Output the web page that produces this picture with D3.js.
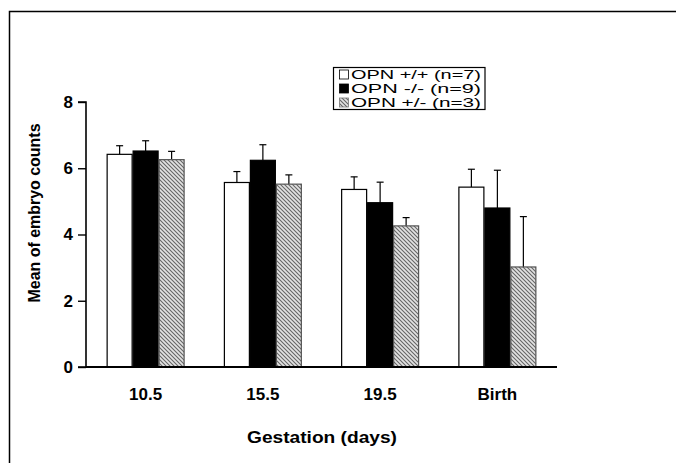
<!DOCTYPE html>
<html><head><meta charset="utf-8">
<script src="https://cdn.jsdelivr.net/npm/d3@7"></script>
<style>body{margin:0;background:#fff}svg{display:block}text{font-family:"Liberation Sans",Arial,sans-serif}</style>
</head><body><svg id="c" width="676" height="463"></svg>
<script>
const categories = ["10.5", "15.5", "19.5", "Birth"];
const seriesNames = ["OPN +/+ (n=7)", "OPN -/- (n=9)", "OPN +/- (n=3)"];
const wildType = [6.42, 5.57, 5.36, 5.43];
const wildTypeErr = [0.26, 0.33, 0.38, 0.54];
const knockout = [6.52, 6.24, 4.96, 4.80];
const knockoutErr = [0.31, 0.47, 0.62, 1.14];
const hetero = [6.26, 5.52, 4.26, 3.02];
const heteroErr = [0.25, 0.28, 0.25, 1.52];
const yTicks = [0, 2, 4, 6, 8];

const series = [
  {name: seriesNames[0], values: wildType, err: wildTypeErr, fill: "#fff", stroke: "#000"},
  {name: seriesNames[1], values: knockout, err: knockoutErr, fill: "#000", stroke: "#000"},
  {name: seriesNames[2], values: hetero, err: heteroErr, fill: "url(#hatch)", stroke: "#555"}
];

const svg = d3.select("#c");
const defs = svg.append("defs");
const pat = defs.append("pattern").attr("id", "hatch").attr("patternUnits", "userSpaceOnUse")
  .attr("width", 4).attr("height", 4);
pat.append("rect").attr("width", 4).attr("height", 4).attr("fill", "#e2e2e2");
pat.append("path").attr("d", "M-1,-1 L5,5 M-1,3 L1,5 M3,-1 L5,1").attr("stroke", "#666").attr("stroke-width", 1.1);

// outer frame
svg.append("path").attr("d", "M9.5,470 L9.5,11.5 L680,11.5").attr("fill", "none").attr("stroke", "#000").attr("stroke-width", 1.5);

const x0 = d3.scaleBand().domain(categories).range([86, 557]).paddingInner(0.335).paddingOuter(0.176);
const x1 = d3.scaleBand().domain(d3.range(series.length)).range([0, x0.bandwidth()]);
const y = d3.scaleLinear().domain([0, 8]).range([367, 102]);

// bars
series.forEach((s, si) => {
  const g = svg.append("g");
  g.selectAll("line.err").data(categories).join("line")
    .attr("x1", (c) => x0(c) + x1(si) + x1.bandwidth() / 2)
    .attr("x2", (c) => x0(c) + x1(si) + x1.bandwidth() / 2)
    .attr("y1", (c, i) => y(s.values[i]))
    .attr("y2", (c, i) => y(s.values[i] + s.err[i]))
    .attr("stroke", "#000").attr("stroke-width", 1.2);
  g.selectAll("line.cap").data(categories).join("line")
    .attr("x1", (c) => x0(c) + x1(si) + x1.bandwidth() / 2 - 3.5)
    .attr("x2", (c) => x0(c) + x1(si) + x1.bandwidth() / 2 + 3.5)
    .attr("y1", (c, i) => y(s.values[i] + s.err[i]))
    .attr("y2", (c, i) => y(s.values[i] + s.err[i]))
    .attr("stroke", "#000").attr("stroke-width", 1.2);
  g.selectAll("rect").data(categories).join("rect")
    .attr("x", (c) => x0(c) + x1(si) + 0.5)
    .attr("y", (c, i) => y(s.values[i]))
    .attr("width", x1.bandwidth() - 1)
    .attr("height", (c, i) => y(0) - y(s.values[i]))
    .attr("fill", s.fill).attr("stroke", s.stroke).attr("stroke-width", 1.2);
});

// axes
const yAxis = d3.axisLeft(y).tickValues(yTicks).tickSize(8).tickPadding(5).tickFormat(d3.format("d"));
const ya = svg.append("g").attr("transform", "translate(86,0)").call(yAxis);
ya.select(".domain").attr("stroke-width", 1.6).attr("d", "M-8,102H0V367H-8");
ya.selectAll(".tick line").attr("stroke-width", 1.4);
ya.selectAll("text").attr("font-size", 17).attr("font-weight", "bold").attr("fill", "#000").attr("font-family", "Liberation Sans, Arial, sans-serif");

const xAxis = d3.axisBottom(x0).tickSize(0).tickPadding(21);
const xa = svg.append("g").attr("transform", "translate(0,367)").call(xAxis);
xa.select(".domain").attr("stroke-width", 1.8).attr("d", "M86,0H557");
xa.selectAll("text").attr("font-size", 17).attr("font-weight", "bold").attr("fill", "#000").attr("font-family", "Liberation Sans, Arial, sans-serif");

svg.append("text").attr("x", 322).attr("y", 443).attr("text-anchor", "middle")
  .attr("font-size", 17).attr("font-weight", "bold")
  .attr("textLength", 150).attr("lengthAdjust", "spacingAndGlyphs").text("Gestation (days)");
svg.append("text").attr("transform", "translate(40,213) rotate(-90)").attr("text-anchor", "middle")
  .attr("font-size", 16).attr("font-weight", "bold")
  .attr("textLength", 179).attr("lengthAdjust", "spacingAndGlyphs").text("Mean of embryo counts");

// legend
const lg = svg.append("g");
lg.append("rect").attr("x", 333.5).attr("y", 67.5).attr("width", 151.5).attr("height", 42)
  .attr("fill", "#fff").attr("stroke", "#000").attr("stroke-width", 1.2);
series.forEach((s, i) => {
  const cy = 74.5 + i * 14;
  lg.append("rect").attr("x", 339.5).attr("y", cy - 4.5).attr("width", 9).attr("height", 9)
    .attr("fill", s.fill).attr("stroke", i === 2 ? "#777" : "#000").attr("stroke-width", 0.8);
  lg.append("text").attr("x", 351).attr("y", cy + 4.4).attr("font-size", 12.2)
    .attr("textLength", 130).attr("lengthAdjust", "spacingAndGlyphs").text(s.name);
});
</script></body></html>
